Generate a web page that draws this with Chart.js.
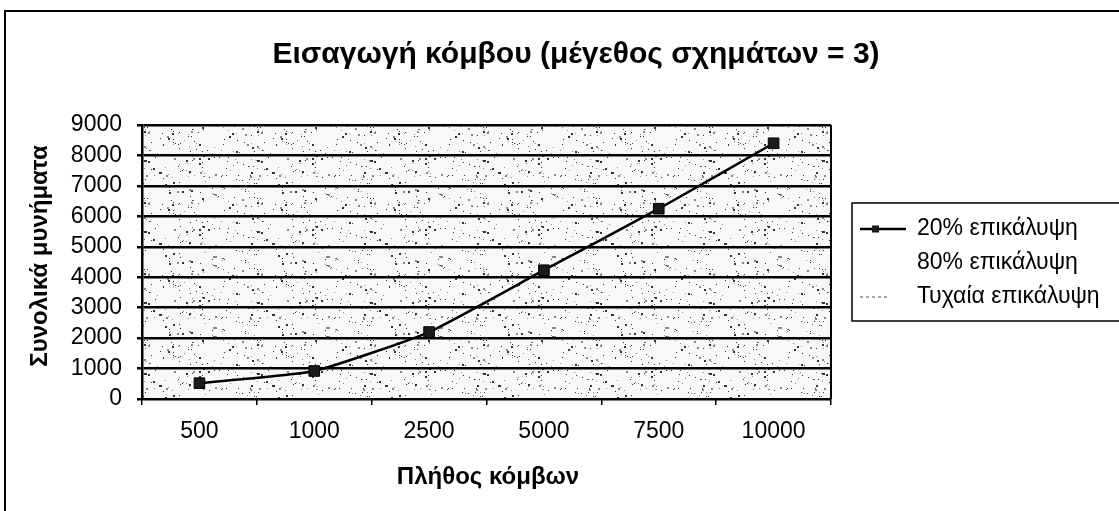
<!DOCTYPE html>
<html>
<head>
<meta charset="utf-8">
<script src="https://cdn.jsdelivr.net/npm/chart.js@4.4.1/dist/chart.umd.min.js"></script>
<style>
  html, body { margin: 0; padding: 0; background: #fff; }
  #wrap { width: 1119px; height: 511px; position: relative; }
</style>
</head>
<body>
<div id="wrap"><canvas id="c" width="1119" height="511"></canvas></div>
<script>
// Node-insertion messages, grouped by number of nodes
const categories = ['500', '1000', '2500', '5000', '7500', '10000'];
const overlap20 = [520, 920, 2200, 4230, 6250, 8400];
const overlap80 = [];
const overlapRandom = [];
const seriesNames = ['20% επικάλυψη', '80% επικάλυψη', 'Τυχαία επικάλυψη'];
const yMin = 0, yMax = 9000, yStep = 1000;

const titleText = 'Εισαγωγή κόμβου (μέγεθος σχημάτων = 3)';
const xTitle = 'Πλήθος κόμβων';
const yTitle = 'Συνολικά μυνήματα';

const FONT = '"Liberation Sans", Arial, sans-serif';

// Stippled grey fill for the plot area (fixed, repeatable dot layout)
function stippleTile() {
  const t = document.createElement('canvas');
  t.width = 113; t.height = 71;
  const g = t.getContext('2d');
  g.fillStyle = '#f8f8f8';
  g.fillRect(0, 0, t.width, t.height);
  let s = 12345;
  const next = () => { s = (s * 1103515245 + 12345) % 2147483648; return s / 2147483648; };
  for (let i = 0; i < 190; i++) {
    const x = Math.floor(next() * t.width);
    const y = Math.floor(next() * t.height);
    const big = next() < 0.3;
    g.fillStyle = next() < 0.6 ? '#333' : '#888';
    g.fillRect(x, y, big ? 2 : 1, big ? 2 : 1);
  }
  return t;
}

// Frame, plot fill, titles and legend
const decor = {
  id: 'decor',
  beforeDraw(chart) {
    const { ctx, chartArea: a } = chart;
    ctx.save();
    ctx.fillStyle = '#fff';
    ctx.fillRect(0, 0, chart.width, chart.height);
    ctx.fillStyle = ctx.createPattern(stippleTile(), 'repeat');
    ctx.fillRect(a.left, a.top, a.right - a.left, a.bottom - a.top);
    ctx.restore();
  },
  afterDraw(chart) {
    const { ctx, chartArea: a } = chart;
    ctx.save();
    // outer frame
    ctx.strokeStyle = '#000';
    ctx.lineWidth = 2;
    ctx.strokeRect(5, 11, 1300, 700);
    // plot area right edge
    ctx.beginPath();
    ctx.moveTo(a.right, a.top);
    ctx.lineTo(a.right, a.bottom);
    ctx.stroke();

    ctx.fillStyle = '#000';
    ctx.textBaseline = 'middle';
    // chart title
    ctx.textAlign = 'center';
    ctx.font = 'bold 30px ' + FONT;
    ctx.fillText(titleText, 576, 55);
    // x-axis title
    ctx.font = 'bold 24px ' + FONT;
    ctx.fillText(xTitle, 488, 477);
    // y-axis title
    ctx.save();
    ctx.translate(40, 256);
    ctx.rotate(-Math.PI / 2);
    ctx.fillText(yTitle, 0, 0);
    ctx.restore();

    // legend
    const lx = 852, ly = 203, lb = 321;
    ctx.lineWidth = 1.5;
    ctx.strokeRect(lx, ly, 400, lb - ly);
    const rows = [229, 263, 297];
    ctx.textAlign = 'left';
    ctx.font = '23px ' + FONT;
    chart.data.datasets.forEach((ds, i) => {
      const y = rows[i];
      if (ds.legendLine) {
        ctx.strokeStyle = ds.borderColor;
        ctx.lineWidth = ds.borderWidth;
        ctx.setLineDash(ds.borderDash || []);
        ctx.beginPath();
        ctx.moveTo(860, y);
        ctx.lineTo(ds.pointRadius > 0 ? 906 : 888, y);
        ctx.stroke();
        ctx.setLineDash([]);
        if (ds.pointRadius > 0) {
          ctx.fillStyle = ds.pointBackgroundColor;
          ctx.fillRect(872, y - 3.5, 7, 7);
        }
      }
      ctx.fillStyle = '#000';
      ctx.fillText(ds.label, 917, y);
    });
    ctx.restore();
  }
};

new Chart(document.getElementById('c'), {
  type: 'line',
  data: {
    labels: categories,
    datasets: [
      {
        label: seriesNames[0], data: overlap20,
        borderColor: '#000', borderWidth: 2.5, tension: 0.15,
        pointStyle: 'rect', pointRadius: 7.5, pointHoverRadius: 7.5,
        pointBackgroundColor: '#1a1a1a', pointBorderColor: '#000', pointBorderWidth: 1,
        legendLine: true
      },
      {
        label: seriesNames[1], data: overlap80,
        borderColor: '#fff', borderWidth: 2, pointRadius: 0,
        legendLine: false
      },
      {
        label: seriesNames[2], data: overlapRandom,
        borderColor: '#888', borderWidth: 1.5, borderDash: [3, 3], pointRadius: 0,
        legendLine: true
      }
    ]
  },
  options: {
    responsive: false,
    animation: false,
    events: [],
    layout: { padding: { left: 0, top: 125, right: 288, bottom: 0 } },
    plugins: { legend: { display: false }, title: { display: false }, tooltip: { enabled: false } },
    scales: {
      x: {
        type: 'category',
        offset: true,
        grid: { offset: true, drawOnChartArea: false, drawTicks: true, tickLength: 6, color: '#000', lineWidth: 1.5 },
        border: { color: '#000', width: 2 },
        ticks: { color: '#000', font: { family: FONT, size: 23 }, padding: 13, maxRotation: 0, autoSkip: false },
        afterFit(s) { s.height = 112; }
      },
      y: {
        min: yMin, max: yMax,
        grid: { color: '#000', lineWidth: 2.5, drawTicks: true, tickLength: 5 },
        border: { color: '#000', width: 2.5 },
        ticks: {
          stepSize: yStep, color: '#000', font: { family: FONT, size: 23 }, padding: 15, autoSkip: false,
          callback: (v) => String(v)
        },
        afterFit(s) { s.width = 142; }
      }
    }
  },
  plugins: [decor]
});
</script>
</body>
</html>
